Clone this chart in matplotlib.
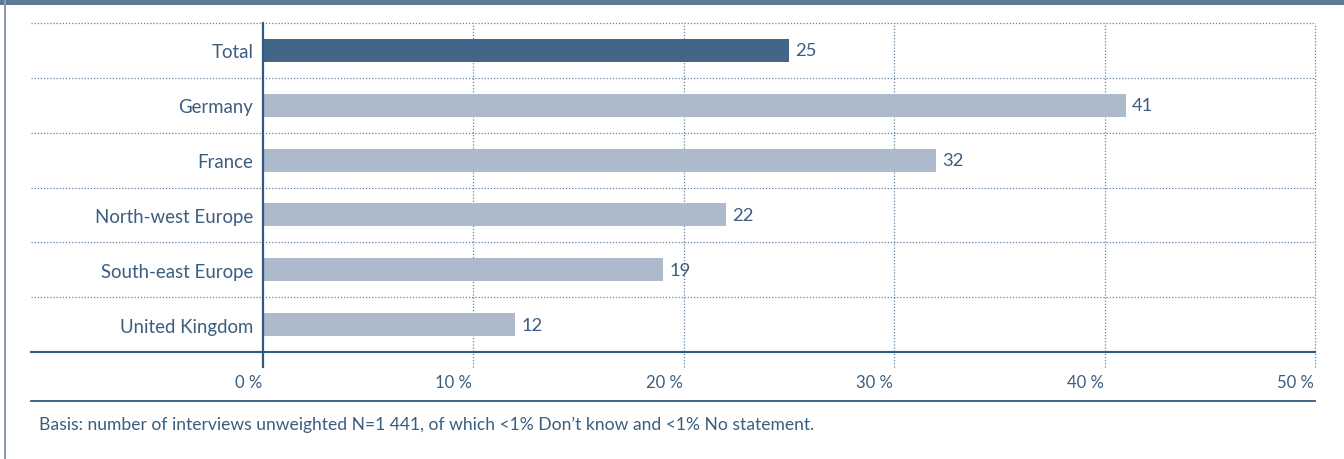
import matplotlib.pyplot as plt
from matplotlib.patches import Rectangle

# survey shares in percent
categories = ["Total", "Germany", "France", "North-west Europe", "South-east Europe", "United Kingdom"]
values = [25, 41, 32, 22, 19, 12]
xticks = [0, 10, 20, 30, 40, 50]
xtick_labels = ["0 %", "10 %", "20 %", "30 %", "40 %", "50 %"]
footnote = "Basis: number of interviews unweighted N=1 441, of which <1% Don\u2019t know and <1% No statement."

text_color = "#3b5d7e"
dark_bar = "#436688"
light_bar = "#adbacb"
line_color = "#2f5a82"

plt.rcParams['font.family'] = ['Lato', 'DejaVu Sans']

W, H = 1344, 460
fig = plt.figure(figsize=(W / 100, H / 100), dpi=100)

# plot area in pixels
x0, x1 = 263, 1315
y_top, y_bot = 24, 353
ax = fig.add_axes([x0 / W, 1 - y_bot / H, (x1 - x0) / W, (y_bot - y_top) / H])

ypos = list(range(len(categories)))
colors = [dark_bar] + [light_bar] * (len(categories) - 1)
ax.barh(ypos, values, height=0.42, color=colors, zorder=3)
for y, v in zip(ypos, values):
    ax.text(v + 0.3, y, str(v), va='center', ha='left', fontsize=13.2, color=text_color)

ax.set_xlim(0, 50)
ax.set_ylim(len(categories) - 0.5, -0.5)
ax.set_yticks(ypos)
ax.set_yticklabels(categories, fontsize=13.4, color=text_color)
ax.tick_params(axis='y', length=0, pad=7)
ax.set_xticks([])
for side in ax.spines.values():
    side.set_visible(False)

left_ext = (31 - x0) / (x1 - x0)
below = -15 / (y_bot - y_top)

# dotted separators between rows, extended left under the labels
ytr = ax.get_yaxis_transform()
for k in range(len(categories)):
    ax.plot([left_ext, 1], [k - 0.5, k - 0.5], transform=ytr, clip_on=False,
            color=line_color, lw=0.9, ls=(0, (1, 1.5)), alpha=0.75, zorder=1)
# baseline of the value axis
ax.plot([left_ext, 1], [len(categories) - 0.5] * 2, transform=ytr, clip_on=False,
        color=line_color, lw=1.5, zorder=4)

# vertical grid lines and the zero line
xtr = ax.get_xaxis_transform()
for t, lab in zip(xticks, xtick_labels):
    if t == 0:
        ax.plot([t, t], [below, 1], transform=xtr, clip_on=False,
                color=line_color, lw=1.6, zorder=4)
    else:
        ax.plot([t, t], [below, 1], transform=xtr, clip_on=False,
                color=line_color, lw=0.9, ls=(0, (1, 1.5)), alpha=0.75, zorder=1)
    ax.text(t - 0.05, -30 / (y_bot - y_top), lab, transform=xtr, ha='right', va='center',
            fontsize=12, color=text_color)

# rule above the footnote
fig.add_artist(plt.Line2D([31 / W, x1 / W], [1 - 402 / H] * 2, color=line_color, lw=1.3))
fig.text(39 / W, 1 - 425 / H, footnote, ha='left', va='center', fontsize=12.6, color=text_color)

# frame: top band and left edge
fig.add_artist(Rectangle((0, 1 - 6 / H), 1, 6 / H, transform=fig.transFigure,
                         color="#5f7a95", lw=0))
fig.add_artist(Rectangle((4 / W, 0), 2 / W, 1, transform=fig.transFigure,
                         color="#8b9cb0", lw=0))

fig.savefig("out.png", dpi=100)
